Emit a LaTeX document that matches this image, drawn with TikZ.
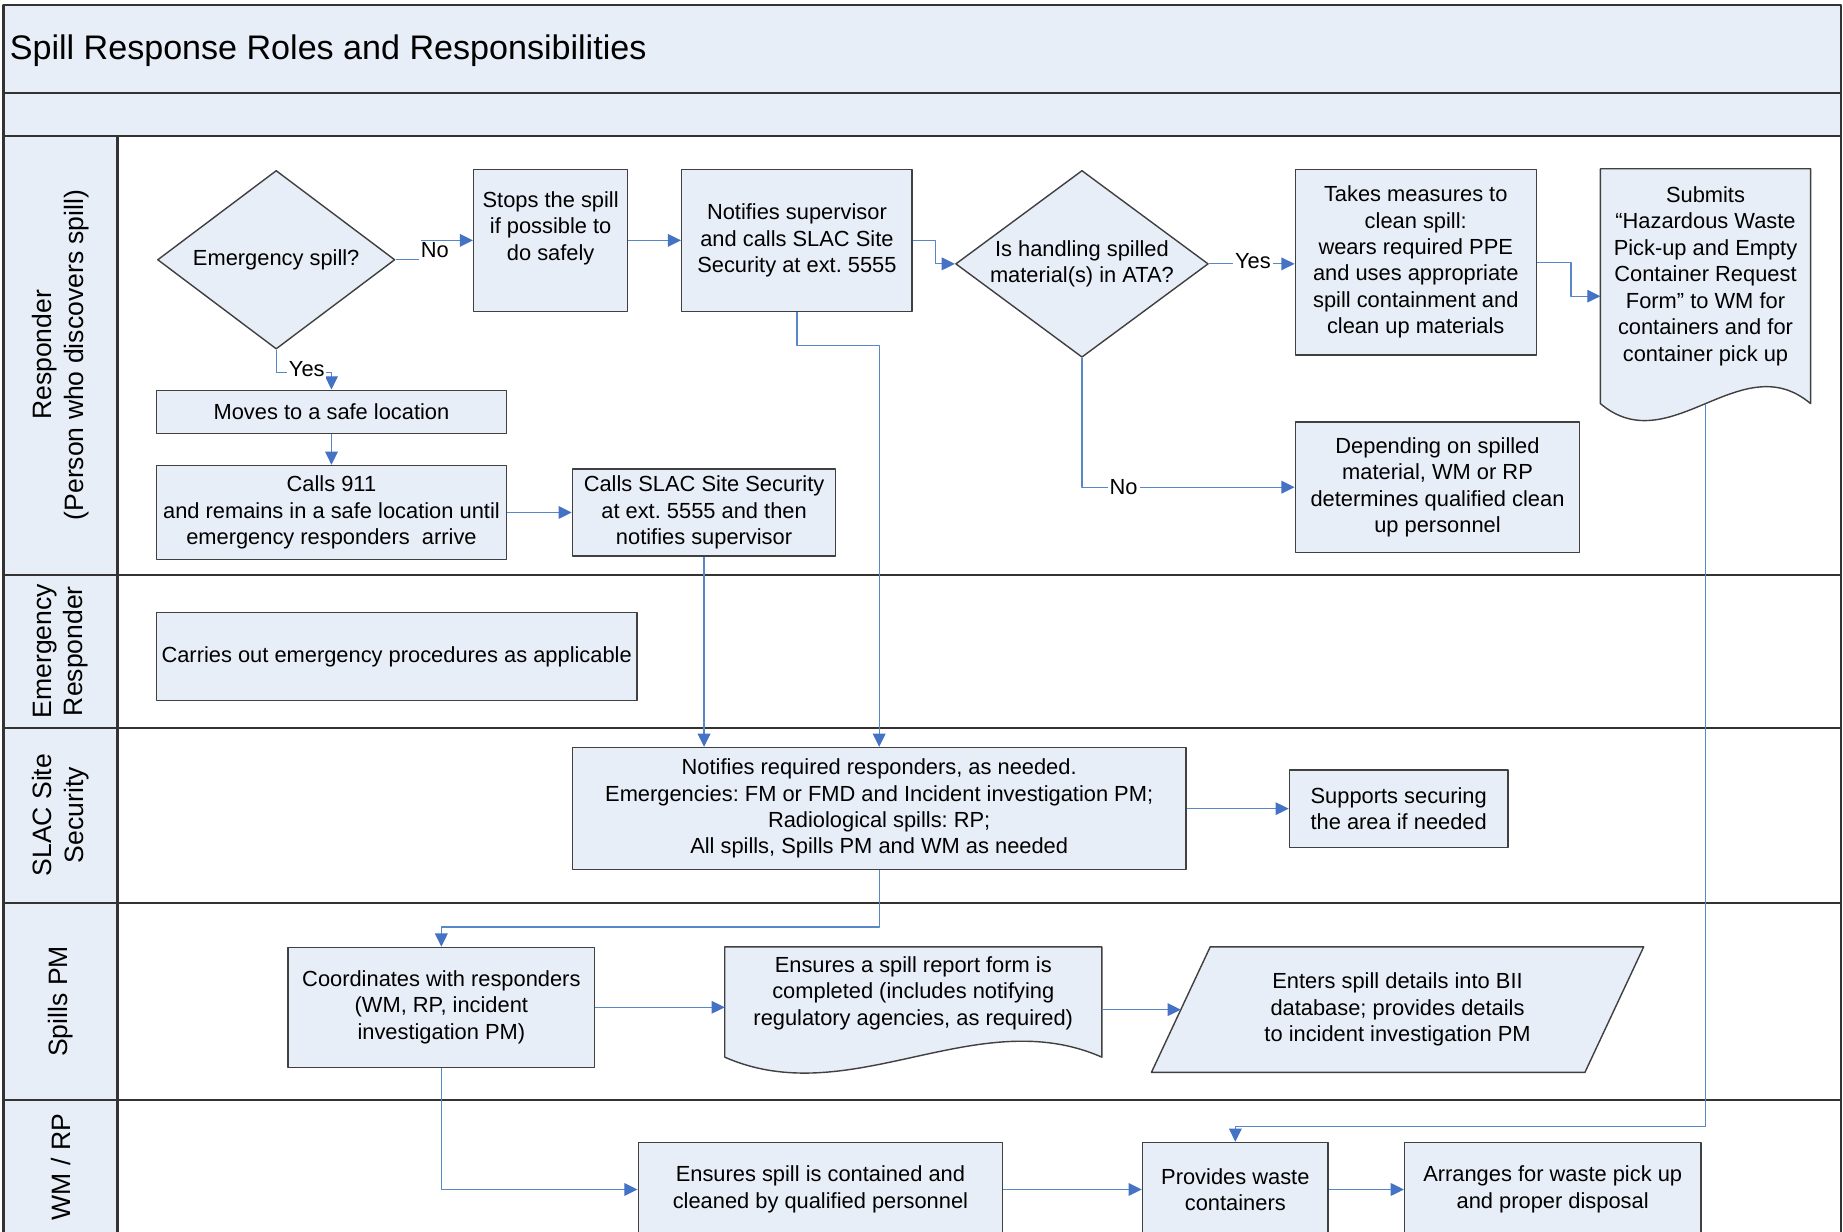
\documentclass[tikz,border=0pt]{standalone}
\usepackage{fontspec}
\setmainfont{Liberation Sans}
\usetikzlibrary{arrows.meta,calc,shapes.geometric}
\definecolor{paleblue}{RGB}{232,238,247}
\definecolor{linkblue}{RGB}{88,135,200}
\definecolor{tipblue}{RGB}{68,114,196}
\newcommand{\boxfont}{\fontsize{9.3}{11.25}\selectfont}
\newcommand{\lanefont}{\fontsize{11.3}{13.5}\selectfont}
\newcommand{\titlefont}{\fontsize{14.5}{17}\selectfont}
\frenchspacing
\begin{document}
\begin{tikzpicture}[x=0.5pt, y=-0.5pt, font=\boxfont, line join=round,
	>={Triangle[length=5.6pt,width=5.4pt,color=tipblue]},
	sz/.style 2 args={minimum width=#1*0.5pt, minimum height=#2*0.5pt},
	task/.style={draw=black!75, line width=0.6pt, fill=paleblue, inner sep=0pt, align=center},
	decide/.style={task, diamond},
	ghost/.style={inner sep=0pt},
	txt/.style={font=\boxfont, align=center, inner sep=0pt},
	link/.style={draw=linkblue, line width=0.5pt, ->},
	tag/.style={fill=white, inner sep=0.8pt},
	lane/.style={draw=black!80, line width=0.9pt},
	lanename/.style={rotate=90, align=center, font=\lanefont, inner sep=0pt}]
	\useasboundingbox (0,0) rectangle (1568,1048);
	\clip (0,0) rectangle (1568,1048);
	% bands and lanes
	\fill[paleblue] (3,4) rectangle (1566,116);
	\fill[paleblue] (3,116) rectangle (100,1070);
	\draw[lane] (3,1070) -- (3,4) -- (1566,4) -- (1566,1070);
	\draw[lane] (3,79) -- (1566,79);
	\foreach \y in {116,489,619,768,936} \draw[lane] (3,\y) -- (1566,\y);
	\draw[lane] (100,116) -- (100,1070);
	\node[anchor=west, inner sep=0pt, font=\titlefont] (title) at (8,43) {Spill Response Roles and Responsibilities};
	\node[lanename] (lnresp) at (51.5,302) {Responder\\(Person who discovers spill)};
	\node[lanename] (lnemer) at (51.5,554) {Emergency\\Responder};
	\node[lanename] (lnsec) at (51.5,693.5) {SLAC Site\\Security};
	\node[lanename] (lnpm) at (51.5,852) {Spills PM};
	\node[lanename] (lnwm) at (51.5,993) {WM / RP};
	% responder lane
	\node[decide, sz={202}{152}, label={[txt]center:Emergency spill?}] (isemer) at (235,221) {};
	\node[task, sz={131}{121}, label={[txt,yshift=5.3pt]center:{Stops the spill\\if possible to\\do safely}}] (stop) at (468.5,204.5) {};
	\node[task, sz={196}{121}] (notify) at (678,204.5) {Notifies supervisor\\and calls SLAC Site\\Security at ext. 5555};
	\node[decide, sz={215}{159}, label={[txt]center:{Is handling spilled\\material(s) in ATA?}}] (inata) at (920.5,224.5) {};
	\node[task, sz={205}{158}] (clean) at (1204.5,223) {Takes measures to\\clean spill:\\wears required PPE\\and uses appropriate\\spill containment and\\clean up materials};
	\node[ghost, sz={178}{199}] (form) at (1451,243.5) {};
	\path[task] (form.north west) -- (form.north east) -- (form.south east)
		.. controls ($(form.south east)+(-59,-50)$) and ($(form.south west)+(59,50)$) .. (form.south west) -- cycle;
	\node[txt] (formtext) at ([yshift=4.25pt]form.center) {Submits\\“Hazardous Waste\\Pick-up and Empty\\Container Request\\Form” to WM for\\containers and for\\container pick up};
	\node[task, sz={242}{111}] (depend) at (1223,414.5) {Depending on spilled\\material, WM or RP\\determines qualified clean\\up personnel};
	\node[task, sz={298}{37}] (moves) at (282,350.5) {Moves to a safe location};
	\node[task, sz={298}{80}] (call911) at (282,436) {Calls 911\\and remains in a safe location until\\emergency responders\ \ arrive};
	\node[task, sz={224}{74}] (callsec) at (599,436) {Calls SLAC Site Security\\at ext. 5555 and then\\notifies supervisor};
	% emergency responder lane
	\node[task, sz={409}{75}] (carry) at (337.5,558.5) {Carries out emergency procedures as applicable};
	% site security lane
	\node[task, sz={522}{104}] (notreq) at (748,688) {Notifies required responders, as needed.\\Emergencies: FM or FMD and Incident investigation PM;\\Radiological spills: RP;\\All spills, Spills PM and WM as needed};
	\node[task, sz={186}{66}] (secure) at (1190,688) {Supports securing\\the area if needed};
	% spills PM lane
	\node[task, sz={261}{102}] (coord) at (375.5,857) {Coordinates with responders\\(WM, RP, incident\\investigation PM)};
	\node[ghost, sz={320}{93}] (report) at (777,852.5) {};
	\path[task] (report.north west) -- (report.north east) -- (report.south east)
		.. controls ($(report.south east)+(-107,-47)$) and ($(report.south west)+(107,47)$) .. (report.south west) -- cycle;
	\node[txt] (reporttext) at ([yshift=3.75pt]report.center) {Ensures a spill report form is\\completed (includes notifying\\regulatory agencies, as required)};
	\node[ghost, sz={368}{106}] (bii) at (1189,859) {};
	\path[task] ($(bii.north west)+(25,0)$) -- ($(bii.north east)+(25,0)$) -- ($(bii.south east)+(-25,0)$) -- ($(bii.south west)+(-25,0)$) -- cycle;
	\node[txt] (biitext) at (bii.center) {Enters spill details into BII\\database; provides details\\to incident investigation PM};
	% WM / RP lane
	\node[task, sz={310}{80}] (contain) at (698,1012) {Ensures spill is contained and\\cleaned by qualified personnel};
	\node[task, sz={158}{80}] (provide) at (1051,1012) {Provides waste\\containers};
	\node[task, sz={252}{80}] (dispose) at (1321,1012) {Arranges for waste pick up\\and proper disposal};
	% connectors
	\draw[link] (isemer.east) -- ++(22,0) |- (stop.west);
	\node[tag] (tagno1) at (370,213) {No};
	\draw[link] (isemer.south) -- ++(0,19) -| (moves.north);
	\node[tag] (tagyes1) at (261,314) {Yes};
	\draw[link] (stop.east) -- (notify.west);
	\draw[link] (notify.east) -- ++(19,0) |- (inata.west);
	\draw[link] (inata.east) -- (inata.east -| clean.west);
	\node[tag] (tagyes2) at (1066,222) {Yes};
	\draw[link] (inata.south) |- (depend.west);
	\node[tag] (tagno2) at (956,414) {No};
	\draw[link] (clean.east) -- ++(29,0) |- ([yshift=-4.25pt]form.west);
	\draw[link] (form.south) -- ++(0,615) -| (provide.north);
	\draw[link] (moves.south) -- (call911.north);
	\draw[link] (call911.east) -- (callsec.west);
	\draw[link] (callsec.south) -- (callsec.south |- notreq.north);
	\draw[link] (notify.south) -- ++(0,28) -| (notreq.north);
	\draw[link] (notreq.east) -- (secure.west);
	\draw[link] (notreq.south) -- ++(0,48) -| (coord.north);
	\draw[link] (coord.east) -- (coord.east -| report.west);
	\draw[link] (report.east |- bii.west) -- (bii.west);
	\draw[link] (coord.south) |- (contain.west);
	\draw[link] (contain.east) -- (provide.west);
	\draw[link] (provide.east) -- (dispose.west);
\end{tikzpicture}
\end{document}
